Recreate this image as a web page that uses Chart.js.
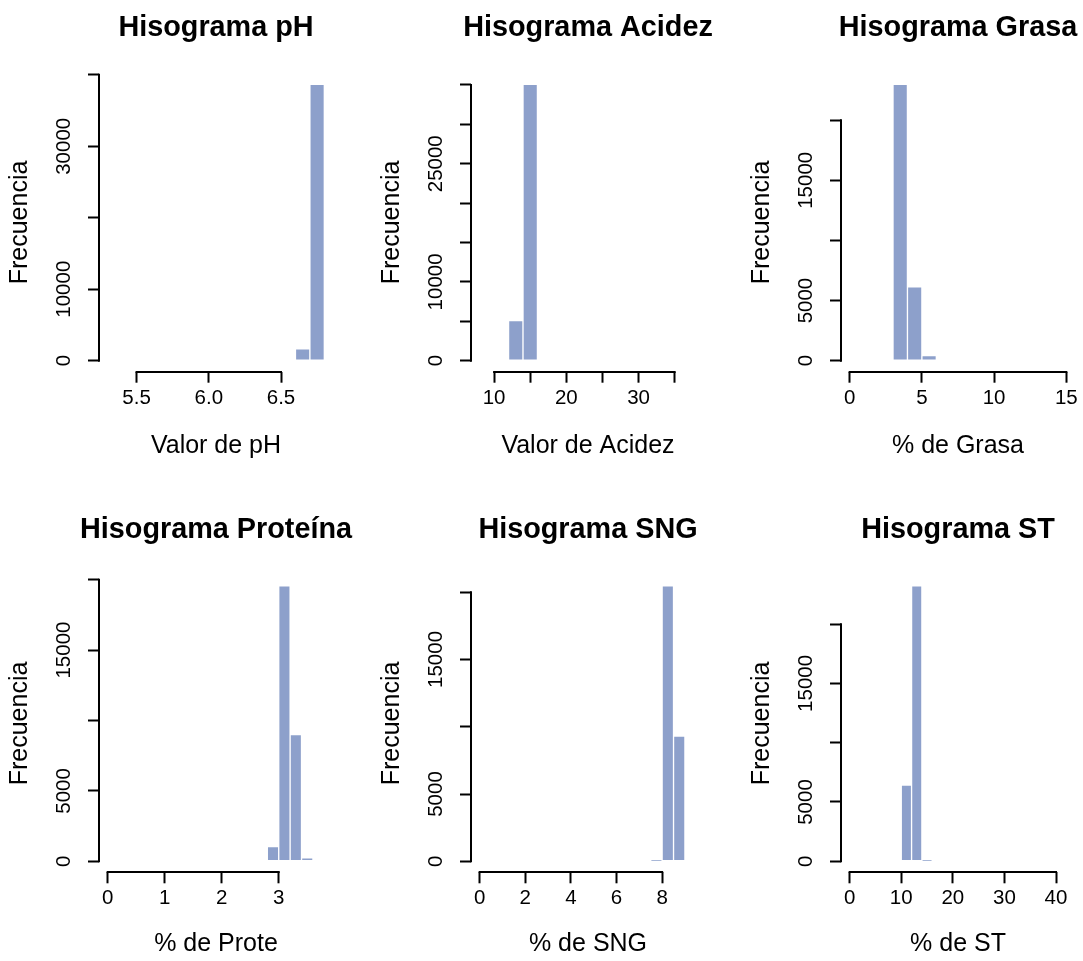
<!DOCTYPE html>
<html>
<head>
<meta charset="utf-8">
<script src="https://cdn.jsdelivr.net/npm/chart.js@4.4.1/dist/chart.umd.min.js"></script>
<style>
  html, body { margin: 0; padding: 0; background: #fff; overflow: hidden; }
  #page { position: relative; width: 1083px; height: 961px; overflow: hidden; }
  #page canvas { position: absolute; }
</style>
</head>
<body>
<div id="page"></div>
<script>
// ===== data =====
const titles = ["Hisograma pH", "Hisograma Acidez", "Hisograma Grasa",
                "Hisograma Proteína", "Hisograma SNG", "Hisograma ST"];
const xTitles = ["Valor de pH", "Valor de Acidez", "% de Grasa",
                 "% de Prote", "% de SNG", "% de ST"];
const yTitle = "Frecuencia";

// bin edges of the visible bars, and their counts
const phBreaks = [6.6, 6.7, 6.8];
const phCounts = [1640, 38670];
const acidezBreaks = [12, 14, 16];
const acidezCounts = [5100, 35080];
const grasaBreaks = [3, 4, 5, 6];
const grasaCounts = [22980, 6140, 420];
const proteinaBreaks = [2.8, 3.0, 3.2, 3.4, 3.6];
const proteinaCounts = [1040, 19570, 8990, 250];
const sngBreaks = [7.5, 8.0, 8.5, 9.0];
const sngCounts = [70, 20480, 9310];
const stBreaks = [10, 12, 14, 16];
const stCounts = [6430, 23240, 80];

// x limits of each histogram (R extends them by 4%)
const phXlim = [5.3, 6.8];
const acidezXlim = [8, 38];
const grasaXlim = [0, 15];
const proteinaXlim = [0, 3.8];
const sngXlim = [0, 9.5];
const stXlim = [0, 42];

// axis ticks and their labels (R leaves some ticks unlabelled)
const phXTicks = [5.5, 6.0, 6.5];
const phXLabels = ["5.5", "6.0", "6.5"];
const phYTicks = [0, 10000, 20000, 30000, 40000];
const phYLabels = ["0", "10000", "", "30000", ""];

const acidezXTicks = [10, 15, 20, 25, 30, 35];
const acidezXLabels = ["10", "", "20", "", "30", ""];
const acidezYTicks = [0, 5000, 10000, 15000, 20000, 25000, 30000, 35000];
const acidezYLabels = ["0", "", "10000", "", "", "25000", "", ""];

const grasaXTicks = [0, 5, 10, 15];
const grasaXLabels = ["0", "5", "10", "15"];
const grasaYTicks = [0, 5000, 10000, 15000, 20000];
const grasaYLabels = ["0", "5000", "", "15000", ""];

const proteinaXTicks = [0, 1, 2, 3];
const proteinaXLabels = ["0", "1", "2", "3"];
const proteinaYTicks = [0, 5000, 10000, 15000, 20000];
const proteinaYLabels = ["0", "5000", "", "15000", ""];

const sngXTicks = [0, 2, 4, 6, 8];
const sngXLabels = ["0", "2", "4", "6", "8"];
const sngYTicks = [0, 5000, 10000, 15000, 20000];
const sngYLabels = ["0", "5000", "", "15000", ""];

const stXTicks = [0, 10, 20, 30, 40];
const stXLabels = ["0", "10", "20", "30", "40"];
const stYTicks = [0, 5000, 10000, 15000, 20000];
const stYLabels = ["0", "5000", "", "15000", ""];

// ===== layout =====
const FONT = "'Liberation Sans', Arial, Helvetica, sans-serif";
const BAR_COLOR = "#8DA0CB";
const SIDE = 99;          // room left of the plot (and mirrored on the right so the title centres)
const PLOT_W = 234;
const CANVAS_W = SIDE + PLOT_W + SIDE;

const rows = [
    { top: 0,   height: 470, titleC: 28, chartTop: 73.3, chartBottom: 371.7, xTitleC: 446 },
    { top: 480, height: 481, titleC: 50, chartTop: 94.7, chartBottom: 392.3, xTitleC: 464 },
];
const colLefts = [0, 372, 742];

const panels = [
    { breaks: phBreaks, counts: phCounts, xlim: phXlim, xTicks: phXTicks, xLabels: phXLabels, yTicks: phYTicks, yLabels: phYLabels },
    { breaks: acidezBreaks, counts: acidezCounts, xlim: acidezXlim, xTicks: acidezXTicks, xLabels: acidezXLabels, yTicks: acidezYTicks, yLabels: acidezYLabels },
    { breaks: grasaBreaks, counts: grasaCounts, xlim: grasaXlim, xTicks: grasaXTicks, xLabels: grasaXLabels, yTicks: grasaYTicks, yLabels: grasaYLabels },
    { breaks: proteinaBreaks, counts: proteinaCounts, xlim: proteinaXlim, xTicks: proteinaXTicks, xLabels: proteinaXLabels, yTicks: proteinaYTicks, yLabels: proteinaYLabels },
    { breaks: sngBreaks, counts: sngCounts, xlim: sngXlim, xTicks: sngXTicks, xLabels: sngXLabels, yTicks: sngYTicks, yLabels: sngYLabels },
    { breaks: stBreaks, counts: stCounts, xlim: stXlim, xTicks: stXTicks, xLabels: stXLabels, yTicks: stYTicks, yLabels: stYLabels },
];

/** R draws the axis line only from first to last tick */
const rAxisLines = {
    id: "rAxisLines",
    afterDraw(chart) {
        const { ctx } = chart;
        const { x, y } = chart.scales;
        const xs = x.ticks.map((t) => x.getPixelForValue(t.value));
        const ys = y.ticks.map((t) => y.getPixelForValue(t.value));
        ctx.save();
        ctx.strokeStyle = "#000";
        ctx.lineWidth = 2;
        ctx.beginPath();
        ctx.moveTo(Math.min(...xs) - 1, Math.round(x.top));
        ctx.lineTo(Math.max(...xs) + 1, Math.round(x.top));
        ctx.moveTo(Math.round(y.right), Math.max(...ys) + 1);
        ctx.lineTo(Math.round(y.right), Math.min(...ys) - 1);
        ctx.stroke();
        ctx.restore();
    },
};

const TITLE_LH = 28.8 * 1.2;
const page = document.getElementById("page");

panels.forEach((p, i) => {
    const row = rows[Math.floor(i / 3)];
    const canvas = document.createElement("canvas");
    canvas.width = CANVAS_W;
    canvas.height = row.height;
    canvas.style.left = colLefts[i % 3] + "px";
    canvas.style.top = row.top + "px";
    page.appendChild(canvas);

    const bars = p.counts.map((c, k) => ({
        x: (p.breaks[k] + p.breaks[k + 1]) / 2,
        y: c,
    }));
    const xSpan = p.xlim[1] - p.xlim[0];
    const yMax = Math.max(...p.counts);

    new Chart(canvas, {
        type: "bar",
        data: {
            datasets: [
                {
                    data: bars,
                    backgroundColor: BAR_COLOR,
                    borderColor: "#ffffff",
                    borderWidth: 1,
                    borderSkipped: false,
                    categoryPercentage: 1,
                    barPercentage: 1,
                },
            ],
        },
        options: {
            responsive: false,
            animation: false,
            events: [],
            layout: { padding: 0 },
            plugins: {
                legend: { display: false },
                tooltip: { enabled: false },
                title: {
                    display: true,
                    text: titles[i],
                    color: "#000",
                    font: { family: FONT, size: 28.8, weight: "bold", lineHeight: 1.2 },
                    padding: {
                        top: row.titleC - TITLE_LH / 2,
                        bottom: row.chartTop - row.titleC - TITLE_LH / 2,
                    },
                },
            },
            scales: {
                x: {
                    type: "linear",
                    offset: false,
                    min: p.xlim[0] - 0.04 * xSpan,
                    max: p.xlim[1] + 0.04 * xSpan,
                    afterBuildTicks: (s) => { s.ticks = p.xTicks.map((v) => ({ value: v })); },
                    afterFit: (s) => {
                        s.height = row.height - row.chartBottom;
                        s.paddingLeft = 0;
                        s.paddingRight = 0;
                    },
                    border: { display: false },
                    grid: {
                        offset: false,
                        drawOnChartArea: false,
                        drawTicks: true,
                        tickLength: 11,
                        tickWidth: 2,
                        tickColor: "#000",
                    },
                    ticks: {
                        autoSkip: false,
                        maxRotation: 0,
                        padding: 3,
                        color: "#000",
                        font: { family: FONT, size: 20.5, lineHeight: 1.2 },
                        callback: (v, k) => p.xLabels[k],
                    },
                    title: {
                        display: true,
                        text: xTitles[i],
                        color: "#000",
                        font: { family: FONT, size: 25, lineHeight: 1.2 },
                        padding: { top: 0, bottom: row.height - row.xTitleC - 15 },
                    },
                },
                y: {
                    type: "linear",
                    min: -0.04 * yMax,
                    max: 1.04 * yMax,
                    afterBuildTicks: (s) => { s.ticks = p.yTicks.map((v) => ({ value: v })); },
                    afterFit: (s) => {
                        s.width = SIDE;
                        s.paddingTop = 0;
                        s.paddingBottom = 0;
                    },
                    border: { display: false },
                    grid: {
                        drawOnChartArea: false,
                        drawTicks: true,
                        tickLength: 11,
                        tickWidth: 2,
                        tickColor: "#000",
                    },
                    ticks: {
                        autoSkip: false,
                        minRotation: 90,
                        maxRotation: 90,
                        crossAlign: "center",
                        padding: -5,
                        color: "#000",
                        font: { family: FONT, size: 20.5, lineHeight: 1.2 },
                        callback: (v, k) => p.yLabels[k],
                    },
                    title: {
                        display: true,
                        text: yTitle,
                        color: "#000",
                        font: { family: FONT, size: 25, lineHeight: 1.2 },
                        padding: { top: 5, bottom: 0 },
                    },
                },
                // empty right margin, mirrors the left one so the title is centred on the plot
                margin: {
                    type: "linear",
                    position: "right",
                    grid: { display: false },
                    border: { display: false },
                    ticks: { display: false },
                    afterFit: (s) => {
                        s.width = SIDE;
                        s.paddingTop = 0;
                        s.paddingBottom = 0;
                    },
                },
            },
        },
        plugins: [rAxisLines],
    });
});
</script>
</body>
</html>
